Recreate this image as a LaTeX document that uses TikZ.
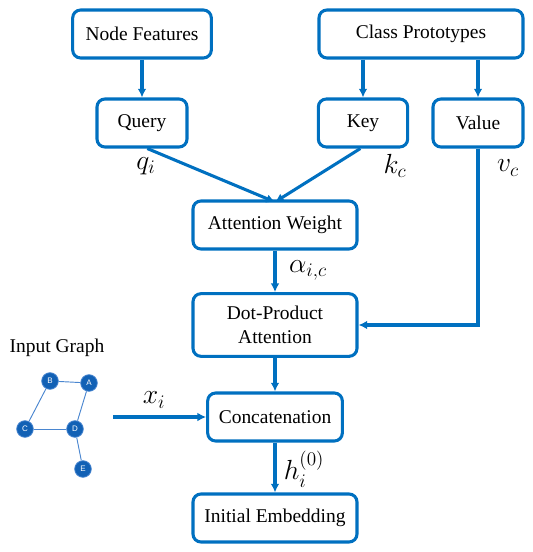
\documentclass[tikz,border=0pt]{standalone}
\usepackage{amsmath,amssymb}
\usepackage{fontspec}
\setmainfont{Liberation Serif}
\newfontfamily\graphfont{Liberation Sans}
\usepackage{tikz}
\usetikzlibrary{arrows.meta}

\definecolor{boxblue}{HTML}{0070C0}
\definecolor{dotblue}{HTML}{1261B5}
\definecolor{edgeblue}{HTML}{4A86D0}

\tikzset{
  stagebox/.style={draw=boxblue, line width=2.3pt, rounded corners=6pt, fill=white,
    minimum height=36pt, align=center, inner sep=2pt,
    font=\fontsize{14.6}{17.5}\selectfont},
  flow/.style={draw=boxblue, line width=2.3pt, -{Latex[length=6.5pt,width=6.5pt]}},
  lbl/.style={font=\fontsize{20}{24}\selectfont},
  gnode/.style={circle, fill=dotblue, draw=edgeblue, line width=0.6pt, minimum size=12.5pt,
    inner sep=0pt, text=white, font=\graphfont\fontsize{6}{7}\selectfont},
  gedge/.style={draw=edgeblue, line width=0.7pt}
}

\begin{document}
\begin{tikzpicture}[x=0.75pt, y=-0.75pt]
      \useasboundingbox (0, 0) rectangle (532, 552);
      % boxes
      \node[stagebox, minimum width=104pt] (feat) at (142, 34) {Node Features};
      \node[stagebox, minimum width=153pt] (proto) at (421, 34) {Class Prototypes};
      \node[stagebox, minimum width=67.5pt] (query) at (142, 123) {Query};
      \node[stagebox, minimum width=67pt] (key) at (363, 123) {Key};
      \node[stagebox, minimum width=67.5pt] (value) at (478, 123) {Value};
      \node[stagebox, minimum width=123pt] (weight) at (275, 225) {Attention Weight};
      \node[stagebox, minimum width=123pt, minimum height=47pt] (dot) at (275, 325) {Dot-Product\\Attention};
      \node[stagebox, minimum width=101pt] (concat) at (275, 417) {Concatenation};
      \node[stagebox, minimum width=123pt] (embed) at (275, 518) {Initial Embedding};
      \coordinate (wtop) at (275, 202);
      \coordinate (vturn) at (value.south |- dot.east);
      \coordinate (xstart) at (113, 417);

      \draw[flow] (feat) -- (query);
      \draw[flow] (proto.south -| key) -- (key);
      \draw[flow] (proto.south -| value) -- (value);
      \draw[flow] ([xshift=4pt]query.south) -- (wtop);
      \draw[flow] ([xshift=-2pt]key.south) -- (wtop);
      \draw[flow] (weight) -- (dot);
      \draw[flow] (value.south) -- (vturn) -- (dot.east);
      \draw[flow] (dot) -- (concat);
      \draw[flow] (xstart) -- (concat.west);
      \draw[flow] (concat) -- (embed);

      % labels
      \node[lbl] (ql) at (146, 166) {$q_i$};
      \node[lbl] (kl) at (395, 166) {$k_c$};
      \node[lbl] (vl) at (508, 168) {$v_c$};
      \node[lbl] (al) at (308, 270) {$\alpha_{i,c}$};
      \node[lbl] (hl) at (304, 469) {$h_i^{(0)}$};
      \node[lbl] (xl) at (154, 400) {$x_i$};

      % input graph
      \node[font=\fontsize{14.6}{17.5}\selectfont] (title) at (57, 348) {Input Graph};
      \node[gnode] (B) at (50, 381) {B};
      \node[gnode] (A) at (89, 383) {A};
      \node[gnode] (C) at (25, 429) {C};
      \node[gnode] (D) at (75, 429) {D};
      \node[gnode] (E) at (83, 469) {E};
      \foreach \u/\v in {B/A, B/C, A/D, C/D, D/E} {
        \draw[gedge] (\u) -- (\v);
      }
    \end{tikzpicture}
\end{document}
